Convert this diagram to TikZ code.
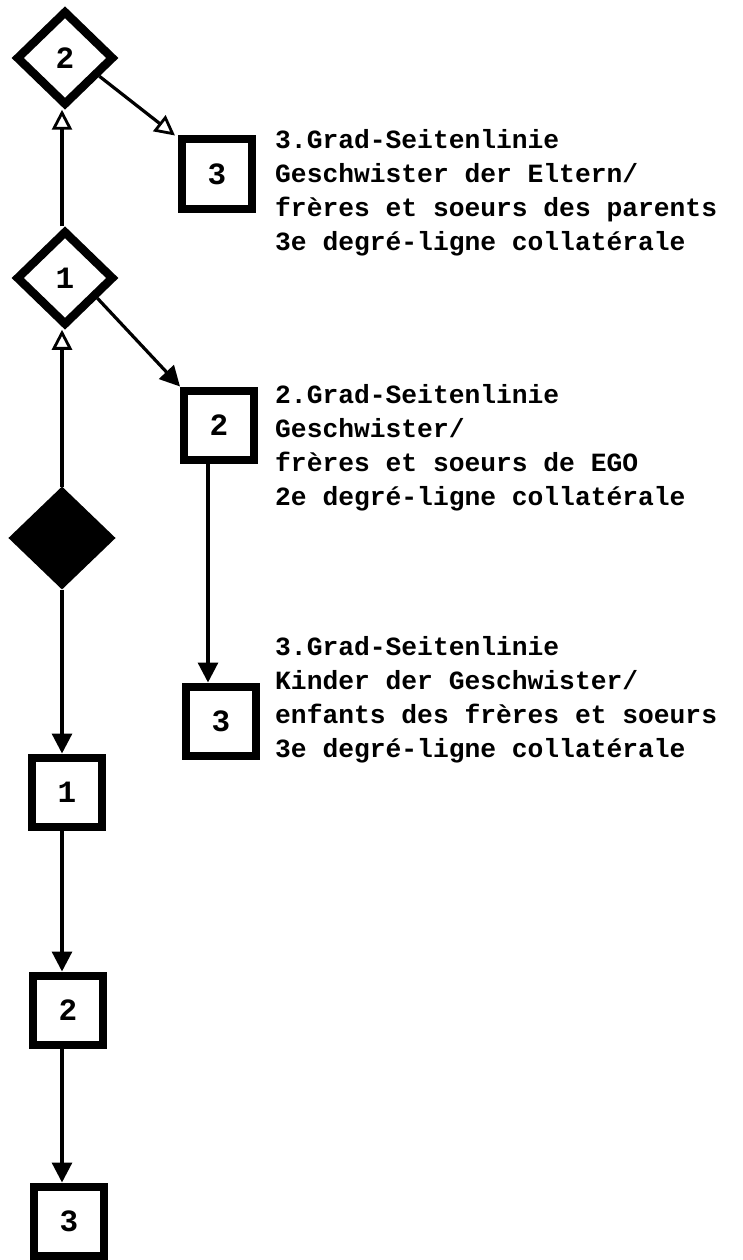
\documentclass[tikz,border=0pt]{standalone}
\usepackage{fontspec}
\setmonofont{Liberation Mono}
\usetikzlibrary{shapes.geometric,arrows.meta}
\tikzset{
  txt/.style={font=\ttfamily\bfseries\fontsize{26.3}{34}\selectfont},
  num/.style={font=\ttfamily\bfseries\fontsize{31}{34}\selectfont},
  kbox/.style={draw,line width=8pt,minimum width=70pt,minimum height=69pt,inner sep=0pt,num,fill=white},
  kdia/.style={diamond,draw,line width=8.5pt,inner sep=0pt,minimum width=98pt,minimum height=95pt,num,fill=white},
  kdiafull/.style={diamond,draw,fill=black,line width=3pt,inner sep=0pt,minimum width=104pt,minimum height=100pt},
  conn/.style={line width=3.2pt},
  openarr/.style={conn,-{Triangle[open,length=20pt,width=20pt,line width=2.8pt]}},
  fullarr/.style={conn,-{Triangle[length=20pt,width=20pt]}},
  label/.style={txt,anchor=base west,align=left,inner sep=0pt}
}
\begin{document}
\begin{tikzpicture}[x=1pt,y=-1pt]
\useasboundingbox (0,0) rectangle (742,1260);
\fill[white] (0,0) rectangle (742,1260);
\coordinate (spine) at (62,0);
\coordinate (rspine) at (208,0);
% diamonds
\node[kdia] (d2) at (65,58) {2};
\node[kdia] (d1) at (65,278) {1};
\node[kdiafull] (dego) at (62,538) {};
% boxes
\node[kbox] (b3a) at (217,174) {3};
\node[kbox] (b2r) at (219,425) {2};
\node[kbox] (b3b) at (221,721) {3};
\node[kbox] (b1) at (67,792) {1};
\node[kbox] (b2) at (68,1010) {2};
\node[kbox] (b3) at (69,1221) {3};
% labels (base anchor = last line)
\node[label] (t1) at (275,250) {3.Grad-Seitenlinie\\Geschwister der Eltern/\\fr\`eres et soeurs des parents\\3e degr\'e-ligne collat\'erale};
\node[label] (t2) at (275,505) {2.Grad-Seitenlinie\\Geschwister/\\fr\`eres et soeurs de EGO\\2e degr\'e-ligne collat\'erale};
\node[label] (t3) at (275,757) {3.Grad-Seitenlinie\\Kinder der Geschwister/\\enfants des fr\`eres et soeurs\\3e degr\'e-ligne collat\'erale};
% connectors
\draw[openarr] (d1.north -| spine) -- (d2.south -| spine);
\draw[openarr] (dego.north -| spine) -- (d1.south -| spine);
\draw[openarr] (d2.-28) -- ([xshift=-3pt]b3a.north west);
\draw[fullarr] (d1.-32) -- (b2r.north west);
\draw[fullarr] (b2r.south -| rspine) -- (b3b.north -| rspine);
\draw[fullarr] (dego.south -| spine) -- (b1.north -| spine);
\draw[fullarr] (b1.south -| spine) -- (b2.north -| spine);
\draw[fullarr] (b2.south -| spine) -- (b3.north -| spine);
\end{tikzpicture}
\end{document}
